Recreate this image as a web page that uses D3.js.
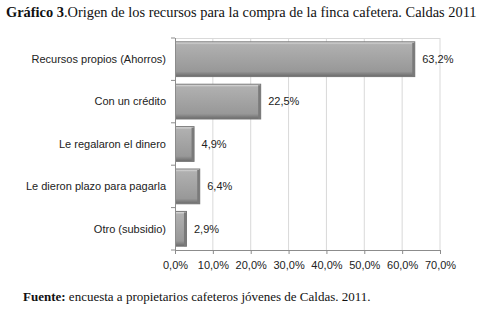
<!DOCTYPE html>
<html>
<head>
<meta charset="utf-8">
<script src="https://cdn.jsdelivr.net/npm/d3@7"></script>
<style>
  body { margin: 0; background: #fff; }
  svg { display: block; }
</style>
</head>
<body>
<div id="chart"></div>
<script>
// data
const categories = ["Recursos propios (Ahorros)", "Con un crédito", "Le regalaron el dinero", "Le dieron plazo para pagarla", "Otro (subsidio)"];
const values = [63.2, 22.5, 4.9, 6.4, 2.9];
const xTicks = [0, 10, 20, 30, 40, 50, 60, 70];

const W = 501, H = 310;
const margin = { top: 38, right: 61, bottom: 60, left: 175 };
const width = W - margin.left - margin.right;
const height = H - margin.top - margin.bottom;

const svg = d3.select("#chart").append("svg")
    .attr("width", W)
    .attr("height", H);

// bar gradient
const defs = svg.append("defs");
const grad = defs.append("linearGradient")
    .attr("id", "barGrad")
    .attr("x1", 0).attr("y1", 0).attr("x2", 0).attr("y2", 1);
grad.append("stop").attr("offset", "0%").attr("stop-color", "#e6e6e6");
grad.append("stop").attr("offset", "8%").attr("stop-color", "#b0b0b0");
grad.append("stop").attr("offset", "85%").attr("stop-color", "#989898");
grad.append("stop").attr("offset", "100%").attr("stop-color", "#6a6a6a");

const g = svg.append("g")
    .attr("transform", `translate(${margin.left}, ${margin.top})`);

const x = d3.scaleLinear().domain([0, 70]).range([0, width]);
const y = d3.scaleBand().domain(categories).range([0, height]).paddingInner(0.18).paddingOuter(0.09);

// gridlines
g.selectAll(".grid")
    .data(xTicks.slice(1))
    .enter().append("line")
    .attr("class", "grid")
    .attr("x1", d => x(d)).attr("x2", d => x(d))
    .attr("y1", 0).attr("y2", height)
    .attr("stroke", "#d9d9d9")
    .attr("stroke-width", 1);

g.append("line")
    .attr("x1", 0).attr("x2", width)
    .attr("y1", 0.5).attr("y2", 0.5)
    .attr("stroke", "#d9d9d9");

// bars
g.selectAll(".bar")
    .data(values)
    .enter().append("rect")
    .attr("class", "bar")
    .attr("x", 0.5)
    .attr("y", (d, i) => y(categories[i]))
    .attr("width", d => x(d))
    .attr("height", y.bandwidth())
    .attr("fill", "url(#barGrad)")
    .attr("stroke", "#777")
    .attr("stroke-width", 1);

// right bevel on bars
g.selectAll(".bevel")
    .data(values)
    .enter().append("rect")
    .attr("class", "bevel")
    .attr("x", d => x(d) - 2)
    .attr("y", (d, i) => y(categories[i]) + 1)
    .attr("width", 2.5)
    .attr("height", y.bandwidth() - 1)
    .attr("fill", "#7a7a7a");

// value labels
g.selectAll(".val")
    .data(values)
    .enter().append("text")
    .attr("class", "val")
    .attr("x", d => x(d) + 8)
    .attr("y", (d, i) => y(categories[i]) + y.bandwidth() / 2)
    .attr("dy", "0.35em")
    .style("font-family", "Liberation Sans, Arial, sans-serif")
    .style("font-size", "11px")
    .attr("fill", "#222")
    .text(d => d.toFixed(1).replace(".", ",") + "%");

// y axis
g.append("line")
    .attr("x1", 0.5).attr("x2", 0.5)
    .attr("y1", 0).attr("y2", height)
    .attr("stroke", "#8c8c8c");

const step = height / categories.length;
g.selectAll(".ytick")
    .data(d3.range(categories.length + 1))
    .enter().append("line")
    .attr("class", "ytick")
    .attr("x1", -4).attr("x2", 0)
    .attr("y1", d => d * step).attr("y2", d => d * step)
    .attr("stroke", "#8c8c8c");

g.selectAll(".ylab")
    .data(categories)
    .enter().append("text")
    .attr("class", "ylab")
    .attr("x", -9)
    .attr("y", d => y(d) + y.bandwidth() / 2)
    .attr("dy", "0.35em")
    .attr("text-anchor", "end")
    .style("font-family", "Liberation Sans, Arial, sans-serif")
    .style("font-size", "11px")
    .attr("fill", "#222")
    .text(d => d);

// x axis
const xAxis = g.append("g")
    .attr("transform", `translate(0, ${height})`)
    .call(d3.axisBottom(x)
        .tickValues(xTicks)
        .tickSize(4)
        .tickFormat(d => d.toFixed(1).replace(".", ",") + "%"));
xAxis.select(".domain").attr("stroke", "#8c8c8c");
xAxis.selectAll(".tick line").attr("stroke", "#8c8c8c");
xAxis.selectAll("text")
    .attr("dy", "1.1em")
    .style("font-family", "Liberation Sans, Arial, sans-serif")
    .style("font-size", "11px")
    .attr("fill", "#222");

// title
const title = svg.append("text")
    .attr("x", 6)
    .attr("y", 17)
    .style("font-family", "Liberation Serif, serif")
    .style("font-size", "14.4px")
    .attr("fill", "#111");
title.append("tspan").style("font-weight", "bold").text("Gráfico 3");
title.append("tspan").text(".Origen de los recursos para la compra de la finca cafetera. Caldas 2011");

// source
const src = svg.append("text")
    .attr("x", 23)
    .attr("y", 301)
    .style("font-family", "Liberation Serif, serif")
    .style("font-size", "13px")
    .attr("fill", "#111");
src.append("tspan").style("font-weight", "bold").text("Fuente:");
src.append("tspan").text(" encuesta a propietarios cafeteros jóvenes de Caldas. 2011.");
</script>
</body>
</html>
